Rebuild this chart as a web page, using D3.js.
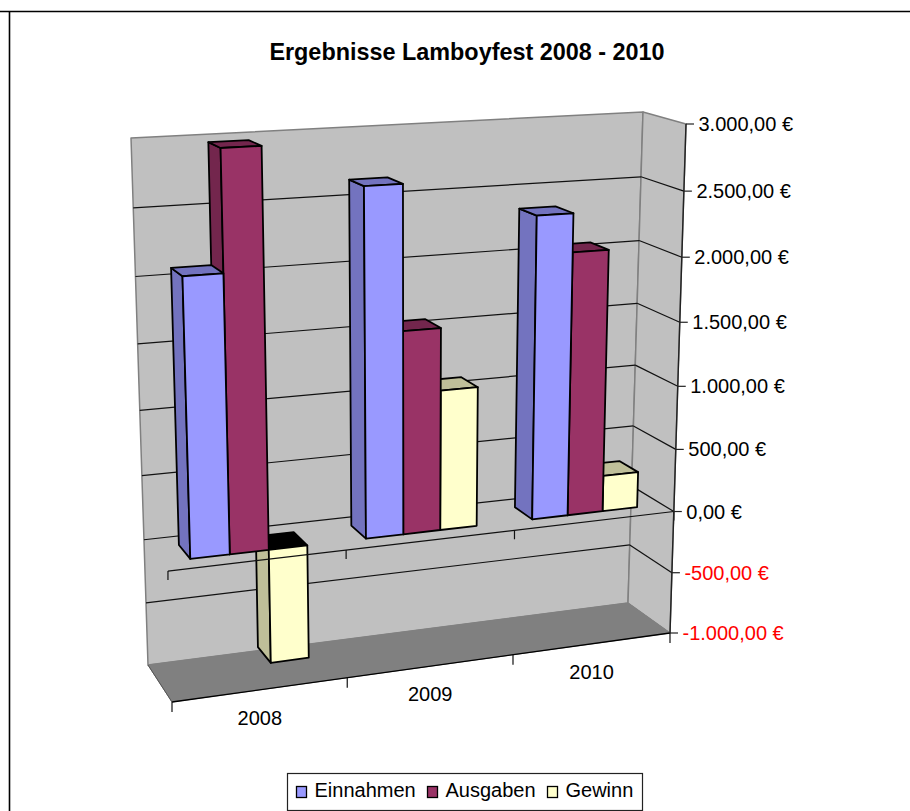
<!DOCTYPE html>
<html lang="de">
<head>
<meta charset="utf-8">
<title>Ergebnisse Lamboyfest 2008 - 2010</title>
<script src="https://cdn.jsdelivr.net/npm/d3@7"></script>
<style>
body { margin: 0; background: #fff; }
svg { display: block; }
text { font-family: "Liberation Sans", Arial, sans-serif; font-size: 20px; fill: #000; }
.title { font-size: 23.4px; font-weight: bold; }
</style>
</head>
<body>
<div id="chart"></div>
<script>
// values
var years = ["2008", "2009", "2010"];
var seriesNames = ["Einnahmen", "Ausgaben", "Gewinn"];
var einnahmen = [2085, 2645, 2350];
var ausgaben = [2970, 1560, 2055];
var gewinn = [-885, 1085, 285];
var valueTicks = [3000, 2500, 2000, 1500, 1000, 500, 0, -500, -1000];

var seriesValues = [einnahmen, ausgaben, gewinn];
var frontFill = ["#9999ff", "#993366", "#ffffcc"];
var sideFill = ["#7373bf", "#73264d", "#bfbf99"];

var width = 910, height = 811;

// corners of the 3d box as they land on the page: [bottom left, bottom right, top right, top left]
var frontQuad = [[172, 702], [670, 633], [686, 124], [155, 151]];
var backQuad = [[148, 665], [628, 603], [643, 112], [131, 138]];

function quadMap(q) {
    var dx1 = q[1][0] - q[2][0], dx2 = q[3][0] - q[2][0], sx = q[0][0] - q[1][0] + q[2][0] - q[3][0];
    var dy1 = q[1][1] - q[2][1], dy2 = q[3][1] - q[2][1], sy = q[0][1] - q[1][1] + q[2][1] - q[3][1];
    var den = dx1 * dy2 - dx2 * dy1;
    var g = (sx * dy2 - dx2 * sy) / den, h = (dx1 * sy - sx * dy1) / den;
    var a = q[1][0] - q[0][0] + g * q[1][0], b = q[3][0] - q[0][0] + h * q[3][0], c = q[0][0];
    var d = q[1][1] - q[0][1] + g * q[1][1], e = q[3][1] - q[0][1] + h * q[3][1], f = q[0][1];
    return function(u, v) {
        var w = g * u + h * v + 1;
        return [(a * u + b * v + c) / w, (d * u + e * v + f) / w];
    };
}

var frontMap = quadMap(frontQuad), backMap = quadMap(backQuad);

var x = d3.scaleLinear().domain([0, 3]).range([0, 1]);
var y = d3.scaleLinear().domain([-1000, 3000]).range([0, 1]);

// cat = 0..3 along the floor, val = euro, depth = 0 front .. 1 back
function project(cat, val, depth) {
    var a = frontMap(x(cat), y(val)), b = backMap(x(cat), y(val));
    return [a[0] + (b[0] - a[0]) * depth, a[1] + (b[1] - a[1]) * depth];
}

var band = d3.scaleBand().domain(years).range([0, 3]).paddingInner(0.34).paddingOuter(0.16);
var inner = d3.scaleBand().domain(seriesNames).range([0, band.bandwidth()]);
var barFront = 0.28, barBack = 0.73;

var locale = d3.formatLocale({decimal: ",", thousands: ".", grouping: [3], currency: ["", "\u00a0€"], minus: "-"});
var euro = locale.format("$,.2f");

var line = d3.line();
var svg = d3.select("#chart").append("svg").attr("width", width).attr("height", height);

function poly(pts, fill, stroke, sw) {
    return svg.append("path")
        .attr("d", line(pts) + "Z")
        .attr("fill", fill)
        .attr("stroke", stroke)
        .attr("stroke-width", sw)
        .attr("stroke-linejoin", "round");
}
function seg(a, b, stroke, sw) {
    return svg.append("line")
        .attr("x1", a[0]).attr("y1", a[1]).attr("x2", b[0]).attr("y2", b[1])
        .attr("stroke", stroke).attr("stroke-width", sw);
}

// frame
seg([0, 11.5], [width, 11.5], "#000", 1.6);
seg([9.5, 11.5], [9.5, height], "#000", 1.6);

svg.append("text").attr("class", "title").attr("x", 467).attr("y", 60).attr("text-anchor", "middle")
    .text("Ergebnisse Lamboyfest 2008 - 2010");

// walls and floor
var vMin = -1000, vMax = 3000;
poly([project(0, vMin, 1), project(3, vMin, 1), project(3, vMax, 1), project(0, vMax, 1)], "#c0c0c0", "#808080", 1.5);
poly([project(3, vMin, 1), project(3, vMin, 0), project(3, vMax, 0), project(3, vMax, 1)], "#c0c0c0", "#808080", 1.5);
poly([project(0, vMin, 0), project(3, vMin, 0), project(3, vMin, 1), project(0, vMin, 1)], "#808080", "#808080", 1);
seg(project(0, vMin, 0), project(3, vMin, 0), "#000", 1.3);
seg(project(0, vMin, 0), project(0, vMin, 1), "#555", 1);

// grid lines on back and side wall
valueTicks.filter(function(d) { return d !== vMin && d !== vMax; }).forEach(function(d) {
    seg(project(0, d, 1), project(3, d, 1), "#111", 1.2);
    seg(project(3, d, 1), project(3, d, 0), "#111", 1.2);
});

// bars, right to left so the left ones cover the side faces
years.slice().reverse().forEach(function(year) {
    var i = years.indexOf(year);
    seriesNames.slice().reverse().forEach(function(name) {
        var s = seriesNames.indexOf(name);
        var val = seriesValues[s][i];
        var u0 = band(year) + inner(name), u1 = u0 + inner.bandwidth();
        var top = Math.max(val, 0), bottom = Math.min(val, 0);
        // side face
        poly([project(u0, bottom, barFront), project(u0, bottom, barBack), project(u0, top, barBack), project(u0, top, barFront)],
            sideFill[s], "#000", 1.8);
        // top face, black when the bar hangs below zero
        poly([project(u0, top, barFront), project(u0, top, barBack), project(u1, top, barBack), project(u1, top, barFront)],
            val < 0 ? "#000" : sideFill[s], "#000", 1.8);
        // front face
        poly([project(u0, bottom, barFront), project(u1, bottom, barFront), project(u1, top, barFront), project(u0, top, barFront)],
            frontFill[s], "#000", 1.8);
    });
});

// zero line at the front with its category ticks, it runs over the bars
seg(project(0, 0, 0), project(3, 0, 0), "#111", 1.2);
d3.range(0, 4).forEach(function(c) {
    var a = project(c, 0, 0);
    seg(a, [a[0], a[1] + 9], "#111", 1.2);
    var b = project(c, vMin, 0);
    seg(b, [b[0], b[1] + 10], "#111", 1.2);
});

// value axis
seg(project(3, vMin, 0), project(3, vMax, 0), "#222", 1.4);
valueTicks.forEach(function(d) {
    var p = project(3, d, 0);
    seg(p, [p[0] + 8, p[1]], "#222", 1.2);
    svg.append("text")
        .attr("x", p[0] + 12.5).attr("y", p[1]).attr("dy", "0.35em")
        .style("fill", d < 0 ? "#ff0000" : "#000")
        .text(euro(d));
});

// category labels
years.forEach(function(year, i) {
    var p = project(i + 0.5, vMin, 0);
    svg.append("text")
        .attr("x", p[0] - 1).attr("y", p[1] + 28).attr("dy", "0.35em").attr("text-anchor", "middle")
        .text(year);
});

// legend
svg.append("rect").attr("x", 287.5).attr("y", 773.5).attr("width", 355).attr("height", 37)
    .attr("fill", "#fff").attr("stroke", "#222").attr("stroke-width", 1.2);
var legendX = [296, 427, 547];
seriesNames.forEach(function(name, s) {
    svg.append("rect").attr("x", legendX[s] + 0.5).attr("y", 786.5).attr("width", 10).attr("height", 11)
        .attr("fill", frontFill[s]).attr("stroke", "#000").attr("stroke-width", 1.3);
    svg.append("text").attr("x", legendX[s] + 18.5).attr("y", 797).text(name);
});
</script>
</body>
</html>
